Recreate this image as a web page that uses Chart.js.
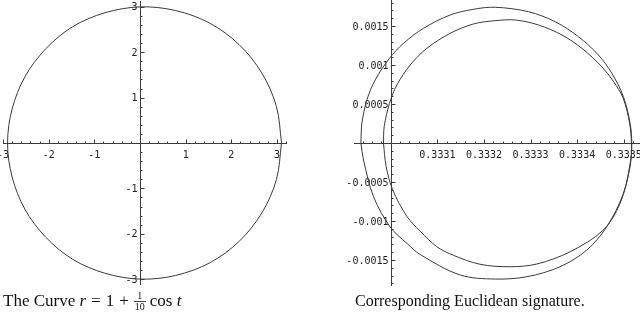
<!DOCTYPE html>
<html>
<head>
<meta charset="utf-8">
<script src="https://cdn.jsdelivr.net/npm/chart.js@4.4.1/dist/chart.umd.min.js"></script>
<style>
  html, body { margin: 0; padding: 0; background: #fff; }
  body { width: 640px; height: 312px; position: relative; overflow: hidden; }
  canvas { position: absolute; top: 0; }
  #curveChart { left: 0; }
  #sigChart { left: 330px; }
  .cap { position: absolute; font-family: "Liberation Serif", serif; font-size: 16px; line-height: 20px; color: #111; white-space: nowrap; }
  #capL { font-size: 17px; }
  .op { margin: 0 5px; }
  .frac { display: inline-block; vertical-align: -4px; font-size: 10px; line-height: 10px; text-align: center; margin-right: 4px; }
  .frac span { display: block; padding: 0 1px; }
  .frac .num { border-bottom: 1px solid #444; }
</style>
</head>
<body>
<canvas id="curveChart" width="300" height="292"></canvas>
<canvas id="sigChart" width="310" height="292"></canvas>
<div class="cap" id="capL" style="left:3px; top:291px;">The Curve <i>r</i><span class="op">=</span>1<span class="op">+</span><span class="frac"><span class="num">1</span><span>10</span></span>cos <i>t</i></div>
<div class="cap" style="left:355px; top:291px;">Corresponding Euclidean signature.</div>
<script>
// left plot: the curve
const curveX = [3.10, 2.99, 2.67, 2.17, 1.53, 0.78, 0.00, -0.77, -1.48, -2.07, -2.52, -2.80, -2.90,
                -2.80, -2.52, -2.07, -1.48, -0.77, 0.00, 0.78, 1.53, 2.17, 2.67, 2.99, 3.10];
const curveY = [0.00, 0.80, 1.54, 2.17, 2.64, 2.92, 3.00, 2.87, 2.56, 2.07, 1.46, 0.75, 0.00,
                -0.75, -1.46, -2.07, -2.56, -2.87, -3.00, -2.92, -2.64, -2.17, -1.54, -0.80, 0.00];
const curveTicks = [-3, -2, -1, 1, 2, 3];

// right plot: the signature, two loops
const outerX = [0.3329358, 0.3329380, 0.3329487, 0.3329665, 0.3329972, 0.3330273, 0.3330702, 0.3331275,
                0.3331775, 0.3332240, 0.3332955, 0.3333528, 0.3334028, 0.3334457, 0.3334745, 0.3334994,
                0.3335137, 0.3335174, 0.3335150, 0.3334994, 0.3334637, 0.3334208, 0.3333635, 0.3332921,
                0.3332240, 0.3331489, 0.3330631, 0.3330345, 0.3329987, 0.3329629, 0.3329414, 0.3329358];
const outerY = [0, 0.000256, 0.000551, 0.000808, 0.001086, 0.001278, 0.001470, 0.001641,
                0.001714, 0.001740, 0.001683, 0.001555, 0.001363, 0.001128, 0.000894, 0.000594,
                0.000253, 0, -0.000218, -0.000645, -0.001073, -0.001372, -0.001586, -0.001714,
                -0.001744, -0.001692, -0.001430, -0.001286, -0.001077, -0.000688, -0.000218, 0];
const innerX = [0.3329843, 0.3329858, 0.3329972, 0.3330131, 0.3330416, 0.3330775, 0.3331275, 0.3331775,
                0.3332240, 0.3332670, 0.3333170, 0.3333672, 0.3334101, 0.3334530, 0.3334779, 0.3334987,
                0.3335127, 0.3335165, 0.3335137, 0.3334923, 0.3334565, 0.3333850, 0.3333135, 0.3332562,
                0.3331919, 0.3331346, 0.3330989, 0.3330631, 0.3330345, 0.3330040, 0.3329900, 0.3329843];
const innerY = [0, 0.000209, 0.000509, 0.000744, 0.001000, 0.001214, 0.001406, 0.001526,
                0.001568, 0.001577, 0.001513, 0.001385, 0.001214, 0.000978, 0.000790, 0.000577,
                0.000253, 0, -0.000304, -0.000773, -0.001115, -0.001394, -0.001551, -0.001586,
                -0.001555, -0.001440, -0.001330, -0.001130, -0.000940, -0.000600, -0.000300, 0];
const sigXTicks = [0.3331, 0.3332, 0.3333, 0.3334, 0.3335];
const sigXLabels = ['0.3331', '0.3332', '0.3333', '0.3334', '0.3335'];
const sigYTicks = [-0.0015, -0.001, -0.0005, 0.0005, 0.001, 0.0015];
const sigYLabels = ['-0.0015', '-0.001', '-0.0005', '0.0005', '0.001', '0.0015'];

const ink = '#3a3a3a';

// Mathematica style axes: lines through a point, small ticks, labels beside
const mmaAxes = {
  id: 'mmaAxes',
  beforeDatasetsDraw(chart, args, o) {
    const { ctx, scales: { x, y } } = chart;
    const ax = Math.round(x.getPixelForValue(o.origin[0])) + 0.5;
    const ay = Math.round(y.getPixelForValue(o.origin[1])) + 0.5;
    ctx.save();
    ctx.strokeStyle = ink;
    ctx.lineWidth = 1;
    ctx.beginPath();
    ctx.moveTo(x.left, ay); ctx.lineTo(x.right, ay);
    ctx.moveTo(ax, y.top); ctx.lineTo(ax, y.bottom);

    // minor and major tick marks
    const [xs, xm] = o.xStep, [ys, ym] = o.yStep;
    for (let i = Math.ceil(x.min / xs); i <= Math.floor(x.max / xs); i++) {
      const px = Math.round(x.getPixelForValue(i * xs)) + 0.5;
      const len = i % xm === 0 ? 4 : 2;
      ctx.moveTo(px, ay); ctx.lineTo(px, ay - len);
    }
    for (let i = Math.ceil(y.min / ys); i <= Math.floor(y.max / ys); i++) {
      const py = Math.round(y.getPixelForValue(i * ys)) + 0.5;
      const len = i % ym === 0 ? 4 : 2;
      ctx.moveTo(ax, py); ctx.lineTo(ax + len, py);
    }
    ctx.stroke();

    ctx.fillStyle = '#222';
    ctx.font = '10px "DejaVu Sans Mono", monospace';
    ctx.textAlign = 'center';
    ctx.textBaseline = 'middle';
    o.xTicks.forEach((v, i) => ctx.fillText(o.xLabels[i], x.getPixelForValue(v), ay + 12));
    ctx.textAlign = 'right';
    o.yTicks.forEach((v, i) => ctx.fillText(o.yLabels[i], ax - 3, y.getPixelForValue(v) + 1));
    ctx.restore();
  }
};

function makeChart(id, datasets, xRange, yRange, padding, axes) {
  return new Chart(document.getElementById(id), {
    type: 'line',
    data: { datasets },
    options: {
      responsive: false,
      animation: false,
      devicePixelRatio: 1,
      layout: { padding },
      plugins: { legend: { display: false }, tooltip: { enabled: false }, mmaAxes: axes },
      scales: {
        x: { type: 'linear', display: false, min: xRange[0], max: xRange[1] },
        y: { type: 'linear', display: false, min: yRange[0], max: yRange[1] }
      }
    },
    plugins: [mmaAxes]
  });
}

function loop(xs, ys, tension) {
  return {
    data: xs.map((v, i) => ({ x: v, y: ys[i] })),
    fill: false, pointRadius: 0,
    borderColor: ink, borderWidth: 1, tension
  };
}

makeChart('curveChart', [loop(curveX, curveY, 0.34)], [-3.0, 3.22], [-3.13, 3.13],
  { left: 3, right: 13, top: 1, bottom: 7 },
  { origin: [0, 0], xStep: [0.2, 5], yStep: [0.2, 5],
    xTicks: curveTicks, xLabels: curveTicks.map(String),
    yTicks: curveTicks, yLabels: curveTicks.map(String) });

makeChart('sigChart', [loop(outerX, outerY, 0.33), loop(innerX, innerY, 0.33)],
  [0.332921, 0.333535], [-0.001833, 0.001833],
  { left: 24, right: 0, top: 0, bottom: 6 },
  { origin: [0.3330, 0], xStep: [0.00002, 5], yStep: [0.0001, 5],
    xTicks: sigXTicks, xLabels: sigXLabels,
    yTicks: sigYTicks, yLabels: sigYLabels });
</script>
</body>
</html>
